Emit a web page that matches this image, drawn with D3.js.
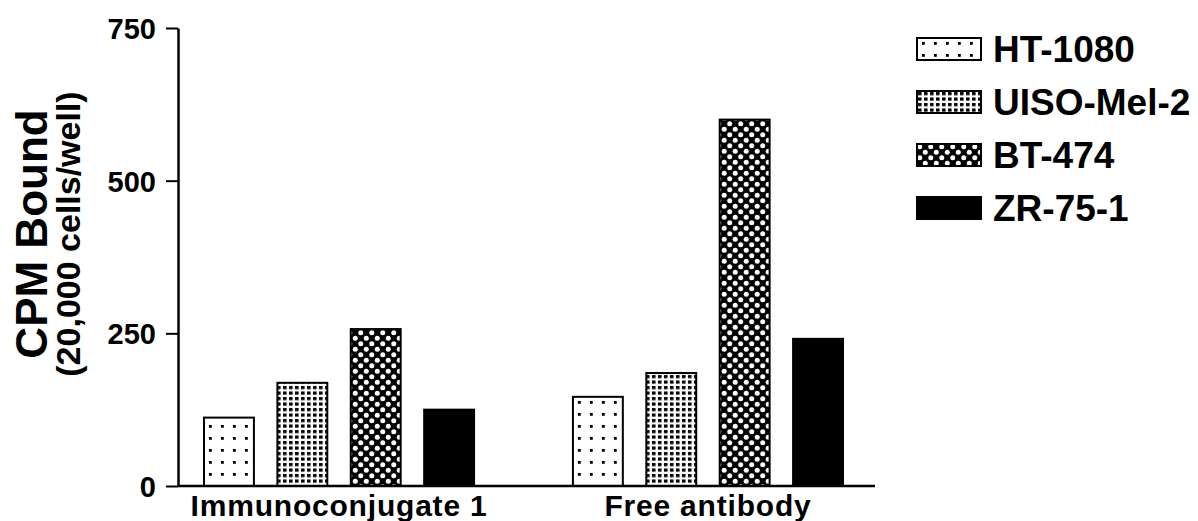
<!DOCTYPE html>
<html>
<head>
<meta charset="utf-8">
<script src="https://cdn.jsdelivr.net/npm/d3@7"></script>
<style>
  body { margin: 0; background: #fff; }
  svg text { font-family: "Liberation Sans", Arial, sans-serif; font-weight: bold; fill: #000; }
</style>
</head>
<body>
<div id="chart"></div>
<script>
// ---- data ----
var groups = ["Immunoconjugate 1", "Free antibody"];
var cellLines = ["HT-1080", "UISO-Mel-2", "BT-474", "ZR-75-1"];
var immunoconjugate = [112, 169, 257, 125];
var freeAntibody = [146, 185, 600, 241];
var yTicks = [0, 250, 500, 750];

var values = {};
values[groups[0]] = immunoconjugate;
values[groups[1]] = freeAntibody;

// plot area (names avoid window.top etc.)
var width = 1198, height = 521;
var plotLeft = 178, plotRight = 875, plotTop = 28, plotBottom = 486;

var svg = d3.select("#chart").append("svg")
  .attr("width", width)
  .attr("height", height);

// fill patterns, one per cell line
var defs = svg.append("defs");

var p1 = defs.append("pattern").attr("id", "pat0")
  .attr("patternUnits", "userSpaceOnUse").attr("width", 12).attr("height", 12);
p1.append("rect").attr("width", 12).attr("height", 12).attr("fill", "#fff");
p1.append("rect").attr("x", 5).attr("y", 5).attr("width", 2.8).attr("height", 2.8).attr("fill", "#000");

var p2 = defs.append("pattern").attr("id", "pat1")
  .attr("patternUnits", "userSpaceOnUse").attr("width", 6).attr("height", 5.5);
p2.append("rect").attr("width", 6).attr("height", 5.5).attr("fill", "#fff");
p2.append("rect").attr("x", 1).attr("y", 1).attr("width", 3.6).attr("height", 3.2).attr("fill", "#000");

var p3 = defs.append("pattern").attr("id", "pat2")
  .attr("patternUnits", "userSpaceOnUse").attr("width", 11).attr("height", 11);
p3.append("rect").attr("width", 11).attr("height", 11).attr("fill", "#000");
p3.append("circle").attr("cx", 2.75).attr("cy", 2.75).attr("r", 2.5).attr("fill", "#fff");
p3.append("circle").attr("cx", 8.25).attr("cy", 8.25).attr("r", 2.5).attr("fill", "#fff");

var fills = ["url(#pat0)", "url(#pat1)", "url(#pat2)", "#000"];

// scales
var x0 = d3.scaleBand()
  .domain(groups)
  .range([plotLeft, 869])
  .paddingInner(0.268)
  .paddingOuter(0.0705);

var x1 = d3.scaleBand()
  .domain(cellLines)
  .range([0, x0.bandwidth()])
  .paddingInner(0.32);

var y = d3.scaleLinear()
  .domain([0, 750])
  .range([plotBottom, plotTop]);

// bars
var gGroups = svg.selectAll("g.group")
  .data(groups)
  .enter().append("g")
  .attr("class", "group")
  .attr("transform", function(d) { return "translate(" + x0(d) + ",0)"; });

gGroups.selectAll("rect")
  .data(function(g) {
    return cellLines.map(function(c, i) { return { line: c, i: i, v: values[g][i] }; });
  })
  .enter().append("rect")
  .attr("x", function(d) { return x1(d.line); })
  .attr("y", function(d) { return y(d.v); })
  .attr("width", x1.bandwidth())
  .attr("height", function(d) { return y(0) - y(d.v); })
  .attr("fill", function(d) { return fills[d.i]; })
  .attr("stroke", "#000")
  .attr("stroke-width", 2);

// y axis
var yAxis = svg.append("g")
  .attr("transform", "translate(" + plotLeft + ",0)")
  .call(d3.axisLeft(y).tickValues(yTicks).tickSize(12).tickPadding(10).tickSizeOuter(0));
yAxis.select(".domain").attr("stroke", "#000").attr("stroke-width", 2.5);
yAxis.selectAll(".tick line").attr("stroke", "#000").attr("stroke-width", 2);
yAxis.selectAll(".tick text")
  .style("font-size", "29px")
  .attr("dy", "0.36em");

// x axis (baseline + group labels)
var xAxis = svg.append("g")
  .attr("transform", "translate(0," + plotBottom + ")")
  .call(d3.axisBottom(x0).tickSize(0).tickPadding(9).tickSizeOuter(0));
xAxis.select(".domain")
  .attr("d", "M" + plotLeft + ",0H" + plotRight)
  .attr("stroke", "#000").attr("stroke-width", 2.5);
xAxis.selectAll(".tick text")
  .style("font-size", "30px")
  .style("letter-spacing", "0.8px")
  .attr("dy", "0.71em");

// y axis title
var yTitle = svg.append("g")
  .attr("transform", "translate(0,234) rotate(-90)");
yTitle.append("text")
  .attr("x", 0).attr("y", 47)
  .attr("text-anchor", "middle")
  .style("font-size", "44px")
  .text("CPM Bound");
yTitle.append("text")
  .attr("x", 0).attr("y", 80)
  .attr("text-anchor", "middle")
  .style("font-size", "34px")
  .text("(20,000 cells/well)");

// legend
var legend = svg.append("g")
  .attr("transform", "translate(917,49)");
var items = legend.selectAll("g")
  .data(cellLines)
  .enter().append("g")
  .attr("transform", function(d, i) { return "translate(0," + (i * 53) + ")"; });
items.append("rect")
  .attr("x", 0).attr("y", -11)
  .attr("width", 64).attr("height", 22)
  .attr("fill", function(d, i) { return fills[i]; })
  .attr("stroke", "#000")
  .attr("stroke-width", 2);
items.append("text")
  .attr("x", 76).attr("y", 0)
  .attr("dy", "0.36em")
  .style("font-size", "37px")
  .text(function(d) { return d; });
</script>
</body>
</html>
